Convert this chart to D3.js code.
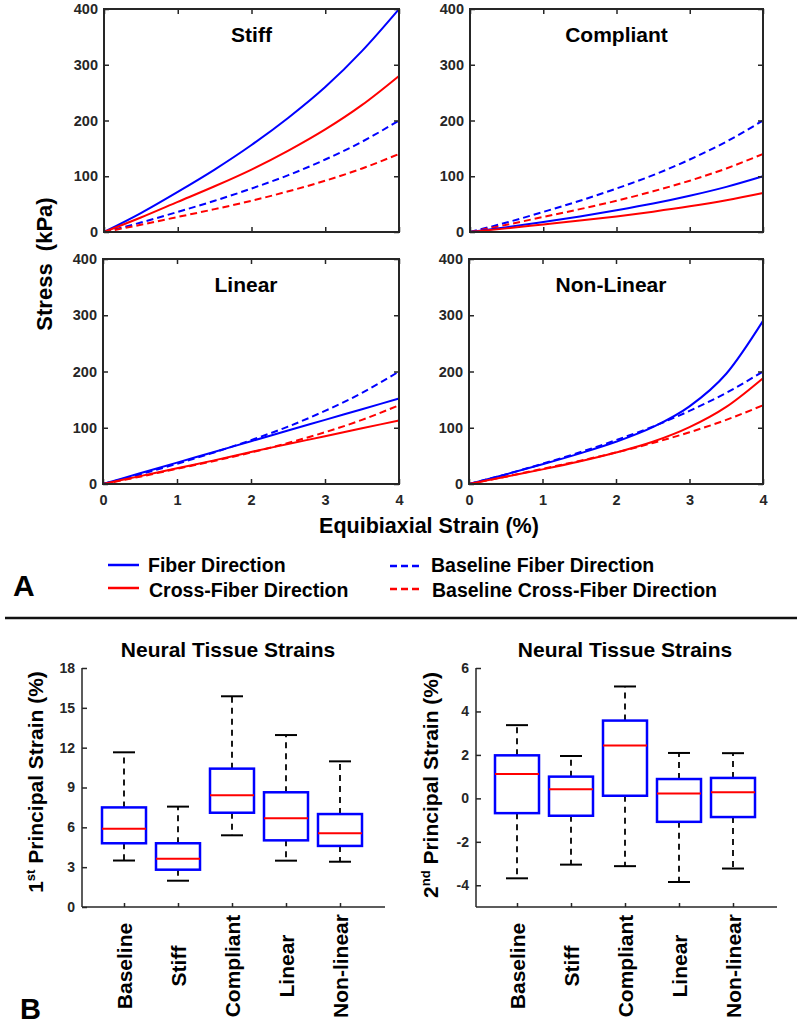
<!DOCTYPE html>
<html><head><meta charset="utf-8">
<script src="https://cdn.jsdelivr.net/npm/d3@7"></script>
<style>
body{margin:0;background:#fff;}
svg{display:block;font-family:"Liberation Sans",Arial,Helvetica,sans-serif;}
</style></head><body>
<svg id="chart" width="800" height="1024"></svg>
<script>
// ---------- Data: panel A (stress-strain curves) ----------
const strain = [0, 0.5, 1, 1.5, 2, 2.5, 3, 3.5, 4];
const baselineFiber = [0, 17, 36, 56, 78, 102, 130, 162, 200];
const baselineCross = [0, 13, 27, 41, 56, 73, 92, 114, 140];
const stiffFiber = [0, 34, 72, 112, 156, 205, 260, 325, 400];
const stiffCross = [0, 26, 54, 82, 112, 146, 184, 228, 280];
const compliantFiber = [0, 8.5, 18, 28, 39, 51, 65, 81, 100];
const compliantCross = [0, 6.5, 13.5, 20.5, 28, 36.5, 46, 57, 70];
const linearFiber = [0, 19, 38, 57, 76, 95, 114, 133, 152];
const linearCross = [0, 14, 28, 42, 57, 71, 85, 99, 113];
const nonlinearFiber = [0, 17, 35, 54, 75, 101, 138, 196, 290];
const nonlinearCross = [0, 13, 26, 40, 56, 75, 101, 137, 188];
const panelTitles = ["Stiff", "Compliant", "Linear", "Non-Linear"];
const stressTicks = [0, 100, 200, 300, 400];
const strainTicks = [0, 1, 2, 3, 4];
const legendLabels = ["Fiber Direction", "Cross-Fiber Direction", "Baseline Fiber Direction", "Baseline Cross-Fiber Direction"];

// ---------- Data: panel B (box plots) ----------
const boxCats = ["Baseline", "Stiff", "Compliant", "Linear", "Non-linear"];
const p1Max = [11.65, 7.56, 15.87, 12.95, 10.97];
const p1Q3  = [7.5, 4.8, 10.42, 8.64, 7.0];
const p1Med = [5.9, 3.64, 8.41, 6.68, 5.55];
const p1Q1  = [4.8, 2.81, 7.1, 5.02, 4.6];
const p1Min = [3.5, 1.98, 5.4, 3.49, 3.41];
const p2Max = [3.37, 1.95, 5.15, 2.09, 2.08];
const p2Q3  = [1.98, 1.0, 3.58, 0.89, 0.94];
const p2Med = [1.12, 0.42, 2.43, 0.22, 0.28];
const p2Q1  = [-0.68, -0.8, 0.12, -1.08, -0.86];
const p2Min = [-3.68, -3.05, -3.12, -3.85, -3.23];
const p1Ticks = [0, 3, 6, 9, 12, 15, 18];
const p2Ticks = [-4, -2, 0, 2, 4, 6];

const BLUE = "#0000ff", RED = "#ff0000", AX = "#262626";
const svg = d3.select("#chart");
const fmt = d => String(d);

function styleAxis(g, fs) {
  g.attr("font-family", null).attr("font-size", null);
  g.selectAll(".domain").remove();
  g.selectAll(".tick line").attr("stroke", AX).attr("stroke-width", 1.5);
  g.selectAll(".tick text").attr("fill", AX).attr("font-size", fs).attr("font-weight", "bold");
}

// ---------- Panel A ----------
const panels = [
  {fiber: stiffFiber, cross: stiffCross, x0: 104, x1: 399, y0: 9, y1: 232, tdx: 0, xlab: false},
  {fiber: compliantFiber, cross: compliantCross, x0: 470, x1: 763, y0: 9, y1: 232, tdx: 0, xlab: false},
  {fiber: linearFiber, cross: linearCross, x0: 103, x1: 399, y0: 259, y1: 484, tdx: -5, xlab: true},
  {fiber: nonlinearFiber, cross: nonlinearCross, x0: 469, x1: 763, y0: 259, y1: 484, tdx: -5, xlab: true}
];
panels.forEach((p, k) => {
  const x = d3.scaleLinear().domain([0, 4]).range([p.x0, p.x1]);
  const y = d3.scaleLinear().domain([0, 400]).range([p.y1, p.y0]);
  const g = svg.append("g");
  const line = d3.line().x((d, i) => x(strain[i])).y(d => y(d)).curve(d3.curveMonotoneX);
  const series = [
    {v: baselineFiber, c: BLUE, dash: "7,4"},
    {v: baselineCross, c: RED, dash: "7,4"},
    {v: p.fiber, c: BLUE, dash: null},
    {v: p.cross, c: RED, dash: null}
  ];
  series.forEach(s => {
    g.append("path").attr("d", line(s.v)).attr("fill", "none")
      .attr("stroke", s.c).attr("stroke-width", 2)
      .attr("stroke-dasharray", s.dash);
  });
  const left = g.append("g").attr("transform", `translate(${p.x0},0)`)
    .call(d3.axisLeft(y).tickValues(stressTicks).tickSize(-5).tickSizeOuter(0).tickPadding(6).tickFormat(fmt));
  styleAxis(left, 14.5);
  const right = g.append("g").attr("transform", `translate(${p.x1},0)`)
    .call(d3.axisRight(y).tickValues(stressTicks).tickSize(-5).tickSizeOuter(0).tickFormat(""));
  styleAxis(right, 14.5);
  const top = g.append("g").attr("transform", `translate(0,${p.y0})`)
    .call(d3.axisTop(x).tickValues(strainTicks).tickSize(-5).tickSizeOuter(0).tickFormat(""));
  styleAxis(top, 14.5);
  const bot = g.append("g").attr("transform", `translate(0,${p.y1})`)
    .call(d3.axisBottom(x).tickValues(strainTicks).tickSize(-5).tickSizeOuter(0).tickPadding(11)
      .tickFormat(p.xlab ? fmt : ""));
  styleAxis(bot, 14.5);
  g.append("rect").attr("x", p.x0).attr("y", p.y0).attr("width", p.x1 - p.x0).attr("height", p.y1 - p.y0)
    .attr("fill", "none").attr("stroke", AX).attr("stroke-width", 2);
  g.append("text").attr("x", (p.x0 + p.x1) / 2 + p.tdx).attr("y", p.y0 + 33)
    .attr("text-anchor", "middle").attr("font-size", 21).attr("font-weight", "bold")
    .text(panelTitles[k]);
});

svg.append("text").attr("transform", "translate(52,264) rotate(-90)")
  .attr("text-anchor", "middle").attr("font-size", 22).attr("font-weight", "bold")
  .style("white-space", "pre").text("Stress  (kPa)");
svg.append("text").attr("x", 429).attr("y", 533)
  .attr("text-anchor", "middle").attr("font-size", 21.5).attr("font-weight", "bold")
  .text("Equibiaxial Strain (%)");

// legend
const legendPos = [
  {lx0: 108, lx1: 139, ly: 565, tx: 148, ty: 572, c: BLUE, dash: null},
  {lx0: 108, lx1: 139, ly: 588, tx: 149, ty: 597, c: RED, dash: null},
  {lx0: 390, lx1: 423, ly: 566, tx: 431, ty: 572, c: BLUE, dash: "7,4"},
  {lx0: 390, lx1: 423, ly: 589, tx: 432, ty: 597, c: RED, dash: "7,4"}
];
legendPos.forEach((l, i) => {
  svg.append("line").attr("x1", l.lx0).attr("x2", l.lx1).attr("y1", l.ly).attr("y2", l.ly)
    .attr("stroke", l.c).attr("stroke-width", 2.5).attr("stroke-dasharray", l.dash);
  svg.append("text").attr("x", l.tx).attr("y", l.ty).attr("font-size", 19.5).attr("font-weight", "bold")
    .text(legendLabels[i]);
});
svg.append("text").attr("x", 13).attr("y", 596).attr("font-size", 30).attr("font-weight", "bold").text("A");
svg.append("line").attr("x1", 5).attr("x2", 797).attr("y1", 618).attr("y2", 618)
  .attr("stroke", "#111").attr("stroke-width", 2.5);
svg.append("text").attr("x", 20).attr("y", 1019).attr("font-size", 29).attr("font-weight", "bold").text("B");

// ---------- Panel B ----------
const boxPlots = [
  {max: p1Max, q3: p1Q3, med: p1Med, q1: p1Q1, min: p1Min, ticks: p1Ticks, dom: [0, 18],
   ax0: 82, ax1: 385, c0: 124, c1: 340, y0: 668, y1: 907, title: "Neural Tissue Strains", tx: 228,
   ylabPre: "1", ylabSup: "st", ylabPost: " Principal Strain (%)", ylx: 43, yly: 782},
  {max: p2Max, q3: p2Q3, med: p2Med, q1: p2Q1, min: p2Min, ticks: p2Ticks, dom: [-5, 6],
   ax0: 476, ax1: 777, c0: 517, c1: 733, y0: 668, y1: 907, title: "Neural Tissue Strains", tx: 625,
   ylabPre: "2", ylabSup: "nd", ylabPost: " Principal Strain (%)", ylx: 438, yly: 785}
];
boxPlots.forEach(b => {
  const x = d3.scaleLinear().domain([1, 5]).range([b.c0, b.c1]);
  const y = d3.scaleLinear().domain(b.dom).range([b.y1, b.y0]);
  const g = svg.append("g");
  const hw = 22, cw = 11;
  boxCats.forEach((c, i) => {
    const cx = x(i + 1);
    [[b.q3[i], b.max[i]], [b.q1[i], b.min[i]]].forEach(([a, e]) => {
      g.append("line").attr("x1", cx).attr("x2", cx).attr("y1", y(a)).attr("y2", y(e))
        .attr("stroke", "#000").attr("stroke-width", 1.8).attr("stroke-dasharray", "6,5");
      g.append("line").attr("x1", cx - cw).attr("x2", cx + cw).attr("y1", y(e)).attr("y2", y(e))
        .attr("stroke", "#000").attr("stroke-width", 2);
    });
    g.append("rect").attr("x", cx - hw).attr("y", y(b.q3[i])).attr("width", 2 * hw)
      .attr("height", y(b.q1[i]) - y(b.q3[i])).attr("fill", "none")
      .attr("stroke", BLUE).attr("stroke-width", 2.5);
    g.append("line").attr("x1", cx - hw).attr("x2", cx + hw).attr("y1", y(b.med[i])).attr("y2", y(b.med[i]))
      .attr("stroke", RED).attr("stroke-width", 2);
    g.append("text").attr("transform", `translate(${cx + 8},966) rotate(-90)`)
      .attr("text-anchor", "middle").attr("font-size", 21).attr("font-weight", "bold").text(c);
  });
  const left = g.append("g").attr("transform", `translate(${b.ax0},0)`)
    .call(d3.axisLeft(y).tickValues(b.ticks).tickSize(-5).tickSizeOuter(0).tickPadding(7).tickFormat(fmt));
  styleAxis(left, 14);
  const bot = g.append("g").attr("transform", `translate(0,${b.y1})`)
    .call(d3.axisBottom(x).tickValues([1, 2, 3, 4, 5]).tickSize(-4).tickSizeOuter(0).tickFormat(""));
  styleAxis(bot, 14);
  g.append("line").attr("x1", b.ax0).attr("x2", b.ax0).attr("y1", b.y0).attr("y2", b.y1)
    .attr("stroke", AX).attr("stroke-width", 1.5);
  g.append("line").attr("x1", b.ax0).attr("x2", b.ax1).attr("y1", b.y1).attr("y2", b.y1)
    .attr("stroke", AX).attr("stroke-width", 1.5);
  g.append("text").attr("x", b.tx).attr("y", 657).attr("text-anchor", "middle")
    .attr("font-size", 21).attr("font-weight", "bold").text(b.title);
  const yl = g.append("text").attr("transform", `translate(${b.ylx},${b.yly}) rotate(-90)`)
    .attr("text-anchor", "middle").attr("font-size", 21).attr("font-weight", "bold");
  yl.append("tspan").text(b.ylabPre);
  yl.append("tspan").attr("font-size", 13).attr("dy", -8).text(b.ylabSup);
  yl.append("tspan").attr("dy", 8).text(b.ylabPost);
});
</script>
</body></html>
